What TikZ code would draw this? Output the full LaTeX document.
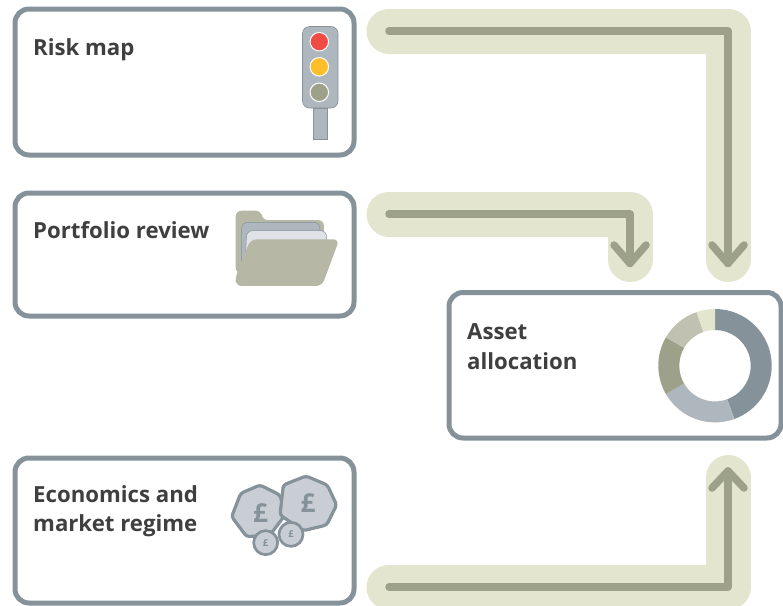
\documentclass[tikz,border=0pt]{standalone}
\usepackage{fontspec}
\usetikzlibrary{calc}
\setmainfont{Open Sans}
\definecolor{boxc}{HTML}{85929A}
\definecolor{bandc}{HTML}{E3E5CE}
\definecolor{linec}{HTML}{9EA18A}
\definecolor{steel}{HTML}{AFB7BE}
\definecolor{khaki}{HTML}{B6B8A5}
\definecolor{coinc}{HTML}{C9CED5}
\definecolor{pale}{HTML}{DFE2E6}
\definecolor{sage}{HTML}{C0C1B0}
\definecolor{textc}{HTML}{3F3F3F}
\definecolor{lampred}{HTML}{F04B45}
\definecolor{lampamber}{HTML}{FDBE2A}
\tikzset{
  panel/.style={draw=boxc,line width=5pt,rounded corners=14pt,fill=white},
  band/.style={draw=bandc,line width=45pt,line cap=round,line join=round},
  flow/.style={draw=linec,line width=7.5pt,line cap=round,line join=round},
  label/.style={font=\fontsize{22.2}{30}\selectfont\bfseries,text=textc,anchor=base west,inner sep=0pt},
  coin/.style={draw=boxc,line width=3.2pt,fill=coinc,line join=round,rounded corners=3pt},
  smallcoin/.style={circle,draw=boxc,line width=2.7pt,fill=coinc,minimum size=24pt,inner sep=0pt,text=boxc},
  lamp/.style={circle,draw=white,line width=1pt,minimum size=18.5pt,inner sep=0pt},
}
\begin{document}
\begin{tikzpicture}[x=1pt,y=-1pt]
\useasboundingbox (0,0) rectangle (783,605);
% panels
\path[panel] (15,9) rectangle (354,155);
\path[panel] (15,193) rectangle (354,316);
\path[panel] (15,458) rectangle (354,603);
\path[panel] (449,292.5) rectangle (781,438);
\node[label] (t1) at (33,55) {Risk map};
\node[label] (t2) at (33,238) {Portfolio review};
\node[label] (t3) at (33,502) {Economics and};
\node[label] (t3b) at (33,531) {market regime};
\node[label] (t4) at (467,339) {Asset};
\node[label] (t4b) at (467,369) {allocation};
% connectors
\coordinate (a1s) at (389,31); \coordinate (a1c) at (728,31); \coordinate (a1e) at (728,259.5);
\coordinate (a2s) at (389,214); \coordinate (a2c) at (630,214); \coordinate (a2e) at (630,259.5);
\coordinate (a3s) at (389,587); \coordinate (a3c) at (728,587); \coordinate (a3e) at (728,477.5);
\draw[band] (a1s) -- (a1c) -- (a1e);
\draw[band] (a2s) -- (a2c) -- (a2e);
\draw[band] (a3s) -- (a3c) -- (a3e);
\draw[flow] (a1s) -- (a1c) -- (728,263.5);
\draw[flow] (712,245) -- (728,263.5) -- (744,245);
\draw[flow] (a2s) -- (a2c) -- (630,263.5);
\draw[flow] (614,245) -- (630,263.5) -- (646,245);
\draw[flow] (a3s) -- (a3c) -- (728,471);
\draw[flow] (712,488) -- (728,471) -- (744,488);
% traffic light
\path[fill=steel,draw=boxc,line width=.6pt] (313.5,108) rectangle (327.5,139);
\path[fill=steel,draw=boxc,line width=.6pt,rounded corners=7pt] (302.5,26.5) rectangle (338,108);
\node[lamp,fill=lampred] (l1) at (319.3,41.7) {};
\node[lamp,fill=lampamber] (l2) at (319.3,66.8) {};
\node[lamp,fill=linec] (l3) at (319.3,92.3) {};
% folder
\begin{scope}[shift={(220,190)},x=.3333pt,y=-.3333pt]
\path[fill=khaki,rounded corners=6pt] (47,250) -- (47,62) -- (125,62) -- (125,90) -- (312,90) -- (312,200) -- (200,260) -- cycle;
\path[fill=steel,draw=boxc,line width=.5pt,rounded corners=6pt] (65,240) -- (65,97) -- (300,97) -- (300,200) -- cycle;
\path[fill=pale,draw=boxc,line width=.5pt,rounded corners=6pt] (75,230) -- (80,122) -- (320,122) -- (320,200) -- cycle;
\path[fill=khaki,rounded corners=6pt] (92,148) -- (358,148) -- (306,288) -- (47,288) -- (47,258) -- cycle;
\end{scope}
% coins
\begin{scope}[shift={(220,460)},x=.3333pt,y=-.3333pt]
\path[coin] (62,100) -- (120,75) -- (180,105) -- (195,165) -- (150,225) -- (80,230) -- (35,170) -- cycle;
\path[coin] (190,75) -- (258,48) -- (322,75) -- (350,135) -- (320,195) -- (250,212) -- (180,165) -- cycle;
\node[font=\fontsize{26}{26}\selectfont\bfseries,text=boxc] (p1) at (122,158) {£};
\node[font=\fontsize{26}{26}\selectfont\bfseries,text=boxc] (p2) at (264,130) {£};
\node[smallcoin,font=\fontsize{9.5}{9.5}\selectfont\bfseries] (c1) at (137,248) {£};
\node[smallcoin,font=\fontsize{9.5}{9.5}\selectfont\bfseries] (c2) at (213,223) {£};
\end{scope}
% donut
\begin{scope}[shift={(715,365.7)},y=1pt]
\foreach \a/\b/\c in {90/-70/boxc,-70/-150/steel,-150/-210/linec,-210/-251/sage,-251/-270/bandc}{
  \fill[\c] (\a:56.7pt) arc[start angle=\a,end angle=\b,radius=56.7pt] -- (\b:35.7pt) arc[start angle=\b,end angle=\a,radius=35.7pt] -- cycle;
}
\end{scope}
\end{tikzpicture}
\end{document}
